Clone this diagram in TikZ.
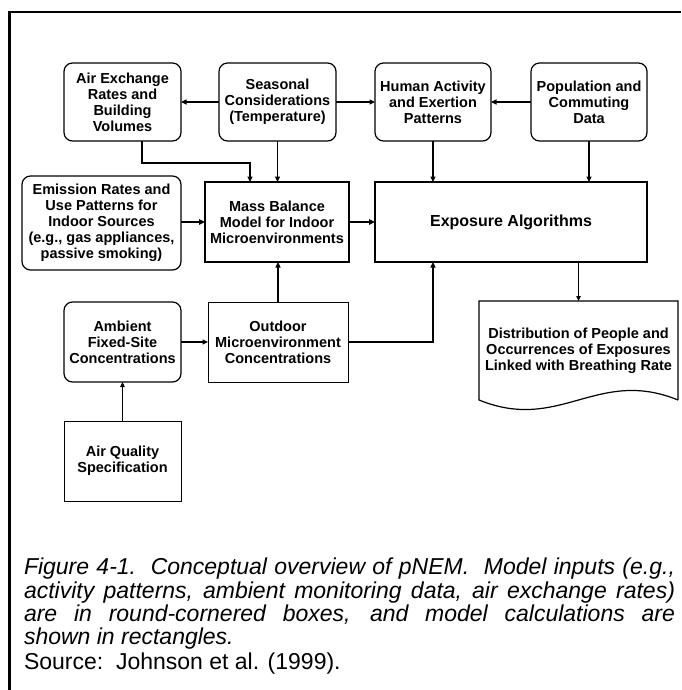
\documentclass[tikz,border=0pt]{standalone}
\usepackage{fontspec}
\setmainfont{Liberation Sans}
\usetikzlibrary{arrows.meta}
\begin{document}
\begin{tikzpicture}[x=1pt,y=-1pt,
  every node/.style={inner sep=0pt, outer sep=0pt, align=center,
    font=\bfseries\fontsize{14.5}{16}\selectfont},
  inbox/.style={draw, line width=1.2pt, rounded corners=8.5pt},
  calcbox/.style={draw, line width=1.3pt},
  conn/.style={line width=1.2pt, -{Triangle[length=5.5pt,width=5pt]}},
  thickconn/.style={line width=2pt, -{Triangle[length=6pt,width=5.5pt]}},
  thinconn/.style={line width=0.8pt, -{Triangle[length=5pt,width=4.5pt]}},
  captext/.style={anchor=base west, font=\itshape\fontsize{23}{24}\selectfont},
  ]
\useasboundingbox (0,0) rectangle (681,690);
\fill[white] (0,0) rectangle (681,690);

% open frame: top and left rules
\draw[line width=2.6pt] (681,12) -- (9.5,12) -- (9.5,690);

% model inputs (round-cornered)
\node[inbox, minimum width=117pt, minimum height=78pt] (air) at (122.5,102)
  {Air Exchange\\Rates and\\Building\\Volumes};
\node[inbox, minimum width=117pt, minimum height=78pt] (seas) at (277.5,102)
  {Seasonal\\Considerations\\(Temperature)};
\node[inbox, minimum width=116pt, minimum height=78pt] (human) at (433,102)
  {Human Activity\\and Exertion\\Patterns};
\node[inbox, minimum width=116pt, minimum height=78pt] (pop) at (589,102)
  {Population and\\Commuting\\Data};
\node[inbox, minimum width=159pt, minimum height=94pt] (emis) at (101.5,223)
  {Emission Rates and\\Use Patterns for\\Indoor Sources\\(e.g., gas appliances,\\passive smoking)};
\node[inbox, minimum width=117pt, minimum height=80pt] (amb) at (122.5,342)
  {Ambient\\Fixed-Site\\Concentrations};

% model calculations (rectangles)
\node[calcbox, minimum width=144pt, minimum height=80pt] (mass) at (277,222)
  {Mass Balance\\Model for Indoor\\Microenvironments};
\node[calcbox, minimum width=272pt, minimum height=80pt,
  font=\bfseries\fontsize{16}{18}\selectfont] (expo) at (511,222)
  {Exposure Algorithms};
\node[calcbox, line width=1pt, minimum width=140pt, minimum height=80pt] (outd) at (278,342)
  {Outdoor\\Microenvironment\\Concentrations};
\node[calcbox, line width=1pt, minimum width=117pt, minimum height=80pt] (aq) at (122.5,461)
  {Air Quality\\Specification};

% output document
\node[minimum width=199pt, minimum height=99pt] (dist) at (578.5,350.5)
  {Distribution of People and\\Occurrences of Exposures\\Linked with Breathing Rate};
\draw[line width=1.2pt] (dist.south east) -- (dist.north east) -- (dist.north west)
  -- (dist.south west) .. controls (560,433) and (597,367) .. (dist.south east);

% connectors
\coordinate (elb) at (250,163);
\draw[conn] (seas.west) -- (air.east);
\draw[conn] (seas.east) -- (human.west);
\draw[conn] (pop.west) -- (human.east);
\draw[conn] ([xshift=19.5pt]air.south) |- (elb) -- (elb |- mass.north);
\draw[conn] (seas.south) -- (seas.south |- mass.north);
\draw[conn] (human.south) -- (human.south |- expo.north);
\draw[conn] (pop.south) -- (pop.south |- expo.north);
\draw[thickconn] (emis.east |- mass.west) -- (mass.west);
\draw[thickconn] (mass.east) -- (expo.west);
\draw[conn] (outd.north) -- (outd.north |- mass.south);
\draw[conn] (outd.east) -| (human.south |- expo.south);
\draw[conn] (amb.east) -- (amb.east -| outd.west);
\draw[thinconn] (expo.south -| dist.north) -- (dist.north);
\draw[thinconn] (aq.north) -- (amb.south);

% caption
\node[captext] (cap1) at (24,574)
  {\makebox[651pt][s]{Figure 4-1.\ \ Conceptual overview of pNEM.\ \ Model inputs (e.g.,}};
\node[captext] (cap2) at (24,598)
  {\makebox[651pt][s]{activity patterns, ambient monitoring data, air exchange rates)}};
\node[captext] (cap3) at (24,621)
  {\makebox[651pt][s]{are in round-cornered boxes, and model calculations are}};
\node[captext] (cap4) at (24,644) {shown in rectangles.};
\node[captext, font=\fontsize{23}{24}\selectfont] (src) at (24,669)
  {Source:\ \ Johnson et al. (1999).};
\end{tikzpicture}
\end{document}
